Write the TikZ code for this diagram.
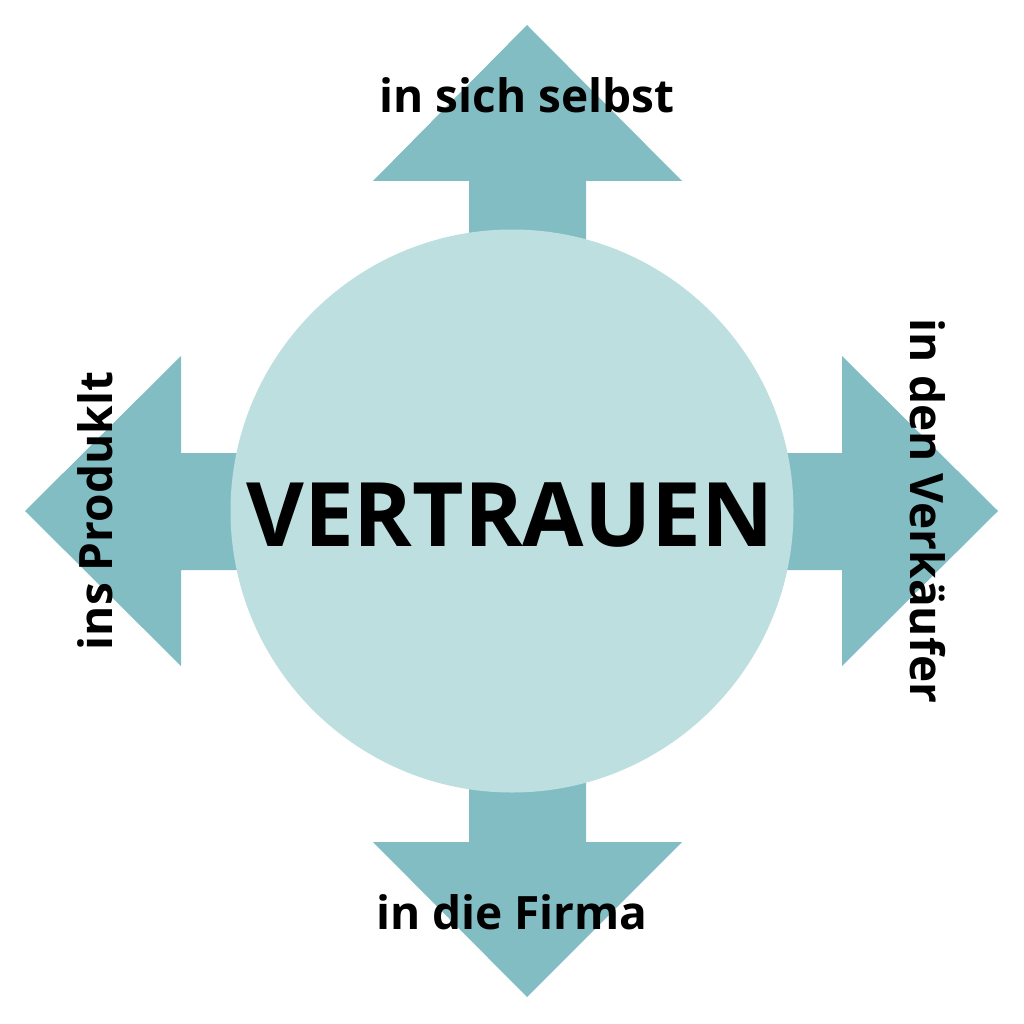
\documentclass[tikz,border=0pt]{standalone}
\usepackage{fontspec}
\setmainfont{Open Sans}[BoldFont={Open Sans Bold}]
\begin{document}
\begin{tikzpicture}[x=1pt,y=-1pt]
\definecolor{arr}{HTML}{81BDC3}
\definecolor{circ}{HTML}{BEDFE0}
\tikzset{lbl/.style={font=\bfseries\fontsize{46}{54}\selectfont,inner sep=0pt}}
\useasboundingbox (0,0) rectangle (1024,1024);
\fill[arr] (527,25) -- (682,181) -- (586,181) -- (586,300) -- (469,300) -- (469,181) -- (373,181) -- cycle;
\fill[arr] (527,997) -- (682,842) -- (586,842) -- (586,720) -- (469,720) -- (469,842) -- (373,842) -- cycle;
\fill[arr] (25,511) -- (181,356) -- (181,453) -- (300,453) -- (300,570) -- (181,570) -- (181,666) -- cycle;
\fill[arr] (998,511) -- (842,356) -- (842,453) -- (720,453) -- (720,570) -- (842,570) -- (842,666) -- cycle;
\node[circle,fill=circ,minimum size=563pt,inner sep=0pt] (c) at (512,511) {};
\node[font=\bfseries\fontsize{89}{100}\selectfont,inner sep=0pt] (v) at (510,515) {VERTRAUEN};
\node[lbl] (t) at (527,95) {in sich selbst};
\node[lbl] (b) at (512,912) {in die Firma};
\node[lbl,rotate=90] (l) at (95,511) {ins Produklt};
\node[lbl,rotate=-90] (r) at (928,511) {in den Verkäufer};
\end{tikzpicture}
\end{document}
